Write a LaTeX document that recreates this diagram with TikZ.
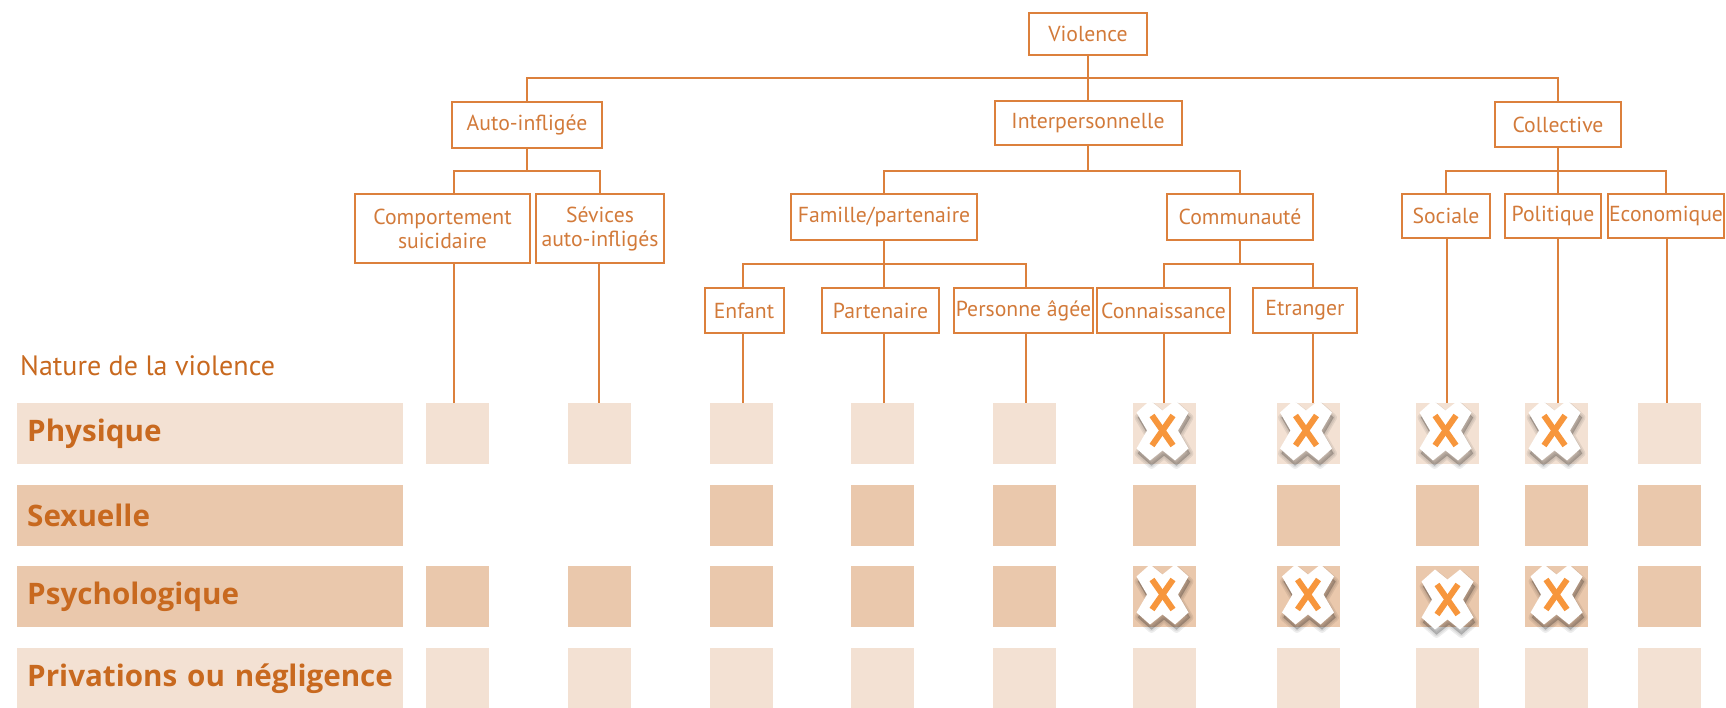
\documentclass[tikz,border=0pt]{standalone}
\usepackage{fontspec}
\setmainfont{PT Sans}
\newfontfamily\labelfont{Open Sans}
\usetikzlibrary{calc}
\definecolor{linec}{HTML}{DC803C}
\definecolor{textc}{HTML}{D27A3A}
\definecolor{labelc}{HTML}{C8691F}
\definecolor{lightfill}{HTML}{F3E1D3}
\definecolor{darkfill}{HTML}{EAC8AC}
\definecolor{xorange}{HTML}{F7963C}
\tikzset{
  box/.style={draw=linec, line width=2pt, inner sep=0pt, text=textc,
    font=\fontsize{21.7}{24}\selectfont, align=center},
  link/.style={draw=linec, line width=2pt},
  drop/.style={draw=linec, line width=1.6pt},
  cell/.style={inner sep=0pt, minimum width=63pt, minimum height=61pt},
  lightcell/.style={cell, fill=lightfill},
  darkcell/.style={cell, fill=darkfill},
  rowlabel/.style={inner xsep=10pt, inner ysep=0pt, text width=366pt,
    minimum height=61pt, anchor=north west, align=left, text=labelc,
    font=\labelfont\bfseries\fontsize{29.6}{32}\selectfont},
  pics/crossmark/.style={code={
    % white backing outline of the cross
    \def\backshape{(0,-20) -- (12.5,-30) -- (26,-18) -- (15.5,0) -- (26,18)
      -- (12.5,30) -- (0,20) -- (-12.5,30) -- (-26,18) -- (-15.5,0)
      -- (-26,-18) -- (-12.5,-30) -- cycle}
    % soft drop shadow, built from a few translucent layers
    \foreach \w in {7,4,1}{
      \path[shift={(1.5,5)}, fill=black, fill opacity=0.07, draw=black,
        draw opacity=0.07, line width=\w pt, line join=round] \backshape;
    }
    \path[fill=white] \backshape;
    % the orange cross itself
    \draw[xorange, line width=6pt] (-10.5,-15) -- (10.5,15);
    \draw[xorange, line width=6pt] (10.5,-15) -- (-10.5,15);
  }}
}
\begin{document}
\begin{tikzpicture}[x=1pt, y=-1pt]
\useasboundingbox (0,0) rectangle (1726,708);

% --- tree of violence types ---
\node[box, minimum width=118pt, minimum height=42pt] (viol)  at (1088,34)  {Violence};
\node[box, minimum width=150pt, minimum height=46pt] (auto)  at (527,125)  {Auto-infligée};
\node[box, minimum width=187pt, minimum height=44pt] (inter) at (1088,123) {Interpersonnelle};
\node[box, minimum width=126pt, minimum height=45pt] (coll)  at (1558,124.5) {Collective};

\node[box, minimum width=175pt, minimum height=69pt] (comp) at (442.5,228.5) {Comportement\\suicidaire};
\node[box, minimum width=128pt, minimum height=69pt] (sev)  at (600,228.5)   {Sévices\\auto-infligés};
\node[box, minimum width=186pt, minimum height=46pt] (fam)  at (884,217)     {Famille/partenaire};
\node[box, minimum width=146pt, minimum height=46pt] (comm) at (1240,217)    {Communauté};
\node[box, minimum width=88pt,  minimum height=44pt] (soc)  at (1446,216)    {Sociale};
\node[box, minimum width=96pt,  minimum height=44pt] (pol)  at (1553,216)    {Politique};
\node[box, minimum width=116pt, minimum height=44pt] (eco)  at (1666,216)    {Economique};

\node[box, minimum width=79pt,  minimum height=45pt] (enf)  at (744,310.5)   {Enfant};
\node[box, minimum width=117pt, minimum height=45pt] (part) at (880.5,310.5) {Partenaire};
\node[box, minimum width=139pt, minimum height=45pt] (pers) at (1023.5,310.5) {Personne âgée};
\node[box, minimum width=133pt, minimum height=45pt] (conn) at (1163.5,310.5) {Connaissance};
\node[box, minimum width=104pt, minimum height=45pt] (etr)  at (1305,310.5)  {Etranger};

% bus levels
\coordinate (bus0) at ($(viol.south)!0.5!(inter.north)$);
\coordinate (bus1) at ($(auto.south)!0.5!(comp.north)$);
\coordinate (bus2) at ($(fam.south)!0.5!(enf.north)$);

\draw[link] (viol.south) -- (inter.north);
\draw[link] (auto.north) |- (bus0) -| (coll.north);

\draw[link] (auto.south) -- (auto.south |- bus1);
\draw[link] ([xshift=11.5pt]comp.north) |- (bus1 -| sev.north) -- (sev.north);

\draw[link] (inter.south) -- (inter.south |- bus1);
\draw[link] (fam.north) |- (bus1 -| comm.north) -- (comm.north);

\draw[link] (coll.south) -- (coll.south |- bus1);
\draw[link] (soc.north) |- (bus1 -| eco.north) -- (eco.north);
\draw[link] ([xshift=5pt]pol.north) -- ([xshift=5pt]pol.north |- bus1);

\draw[link] (fam.south) -- (fam.south |- bus2);
\draw[link] ([xshift=-1pt]enf.north) |- ([xshift=2.5pt]pers.north |- bus2) -- ([xshift=2.5pt]pers.north);
\draw[link] ([xshift=3.5pt]part.north) -- ([xshift=3.5pt]part.north |- bus2);

\draw[link] (comm.south) -- (comm.south |- bus2);
\draw[link] ([xshift=0.5pt]conn.north) |- ([xshift=8pt]etr.north |- bus2) -- ([xshift=8pt]etr.north);

% --- nature of violence ---
\node[anchor=base west, inner sep=0pt, text=labelc, font=\fontsize{28}{32}\selectfont]
  (nat) at (20,375) {Nature de la violence};

\node[rowlabel, fill=lightfill] (phys)  at (17,403) {Physique};
\node[rowlabel, fill=darkfill]  (sexu)  at (17,485) {Sexuelle};
\node[rowlabel, fill=darkfill]  (psy)   at (17,566) {Psychologique};
\node[rowlabel, fill=lightfill] (priv)  at (17,648) {Privations ou négligence};

% grid cells: column index / centre x
\foreach \c/\x in {1/457.5, 2/599, 3/741, 4/882.5, 5/1024.5, 6/1164.5, 7/1308, 8/1447.5, 9/1556.5, 10/1669}{
  \node[lightcell] (s\c-1) at (\x,433.5) {};
  \ifnum\c>2 \node[darkcell] (s\c-2) at (\x,515.5) {};\fi
  \node[darkcell]  (s\c-3) at (\x,596.5) {};
  \node[lightcell] (s\c-4) at (\x,678.5) {};
}

% drops from the leaf boxes to the grid
\foreach \b/\dx/\c in {comp/11.5/1, sev/-1/2, enf/-1/3, part/3.5/4, pers/2.5/5,
    conn/0.5/6, etr/8/7, soc/1/8, pol/5/9, eco/1/10}{
  \draw[drop] ([xshift=\dx pt]\b.south) -- ([xshift=\dx pt]\b.south |- s\c-1.north);
}

% marks
\foreach \c in {6,7,8,9}{
  \pic at ($(s\c-1.center)+(-2,-3)$) {crossmark};
}
\pic at ($(s6-3.center)+(-2,-2)$) {crossmark};
\pic at ($(s7-3.center)+(0,-2)$) {crossmark};
\pic at ($(s8-3.center)+(0,3)$) {crossmark};
\pic at ($(s9-3.center)+(0,-2)$) {crossmark};
\end{tikzpicture}
\end{document}
